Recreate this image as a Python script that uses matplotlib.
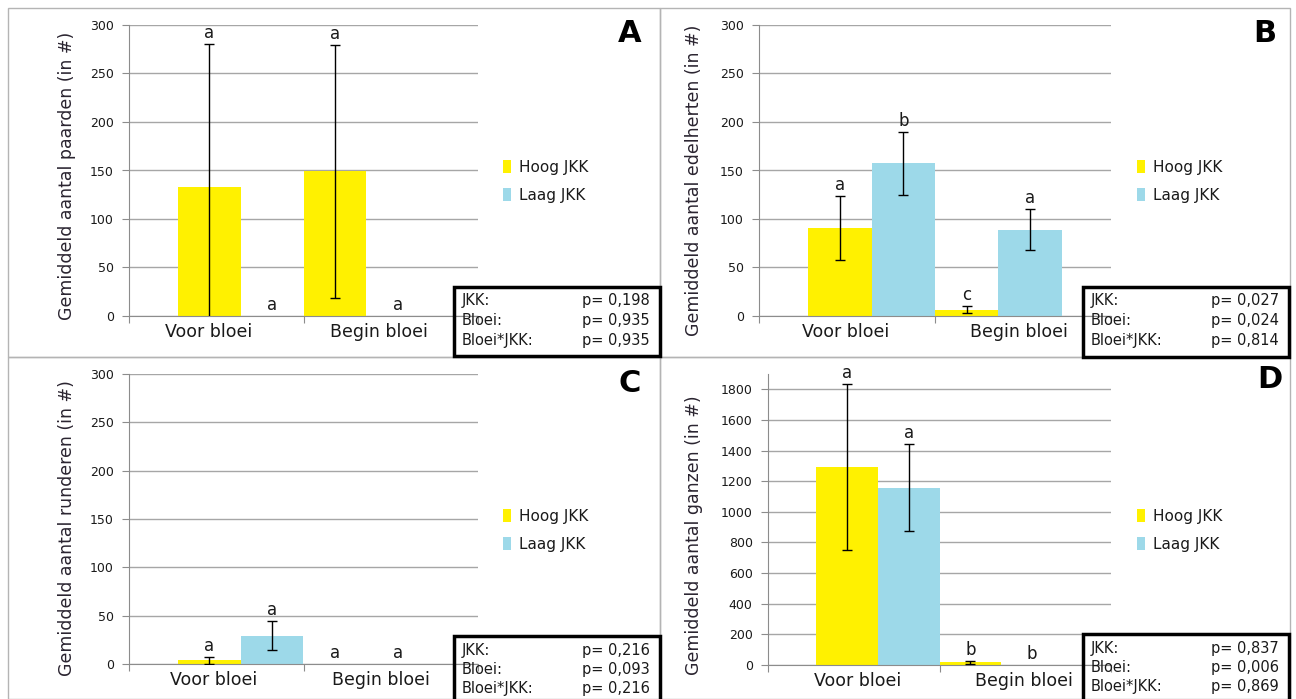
import numpy as np
import matplotlib.pyplot as plt
import matplotlib.patches as patches

W, H = 1296, 699

categories = ['Voor bloei', 'Begin bloei']
series_names = ['Hoog JKK', 'Laag JKK']
stat_names = ['JKK:', 'Bloei:', 'Bloei*JKK:']

# A - paarden
paard_hoog = [133, 149]
paard_hoog_err = [147, 130]
paard_laag = [0, 0]
paard_laag_err = [np.nan, np.nan]
paard_letters_hoog = ['a', 'a']
paard_letters_laag = ['a', 'a']
paard_p = ['0,198', '0,935', '0,935']

# B - edelherten
hert_hoog = [91, 6.5]
hert_hoog_err = [33, 3.8]
hert_laag = [157.5, 89]
hert_laag_err = [32.5, 21]
hert_letters_hoog = ['a', 'c']
hert_letters_laag = ['b', 'a']
hert_p = ['0,027', '0,024', '0,814']

# C - runderen
rund_hoog = [4, 0]
rund_hoog_err = [3.5, np.nan]
rund_laag = [29, 0]
rund_laag_err = [15, np.nan]
rund_letters_hoog = ['a', 'a']
rund_letters_laag = ['a', 'a']
rund_p = ['0,216', '0,093', '0,216']

# D - ganzen
gans_hoog = [1294, 18]
gans_hoog_err = [542, 9]
gans_laag = [1158, 0]
gans_laag_err = [282, np.nan]
gans_letters_hoog = ['a', 'b']
gans_letters_laag = ['a', 'b']
gans_p = ['0,837', '0,006', '0,869']

YELLOW = '#FFF100'
BLUE = '#9DD9E9'
GRID = '#A6A6A6'
AXIS = '#8C8C8C'
TXT = '#1a1a1a'

fig = plt.figure(figsize=(W / 100, H / 100), dpi=100)


def fx(px):
    return px / W


def fy(py):
    return 1 - py / H


def panel(frame, ax_px, ylab, lab_px, letter, letter_px, leg_px, box_px, cat_pos,
          hoog, hoog_err, laag, laag_err, let_h, let_l, pvals, ymax, ystep, yticks_max):
    # panel frame (gray)
    l, t, r, b = frame
    fig.add_artist(patches.Rectangle((fx(l), fy(b)), fx(r - l), (b - t) / H,
                                     transform=fig.transFigure, fill=False,
                                     edgecolor='#B4B4B4', lw=1.0))
    l, t, r, b = ax_px
    ax = fig.add_axes([fx(l), fy(b), fx(r - l), (b - t) / H])

    w = 0.36
    x_h = np.arange(len(categories)) * 2 * w + (1 - 1.5 * w)
    x_l = x_h + w
    ax.bar(x_h, hoog, width=w, color=YELLOW, zorder=2, label=series_names[0])
    ax.bar(x_l, laag, width=w, color=BLUE, zorder=2, label=series_names[1])
    ax.errorbar(x_h, hoog, yerr=hoog_err, fmt='none', ecolor='black',
                elinewidth=1.0, capsize=3.5, capthick=1.0, zorder=3, clip_on=True)
    ax.errorbar(x_l, laag, yerr=laag_err, fmt='none', ecolor='black',
                elinewidth=1.0, capsize=3.5, capthick=1.0, zorder=3, clip_on=True)

    for xs, vals, errs, lets in [(x_h, hoog, hoog_err, let_h), (x_l, laag, laag_err, let_l)]:
        for xi, v, e, s in zip(xs, vals, errs, lets):
            top = v + (0 if np.isnan(e) else e)
            ax.annotate(s, (xi, top), xytext=(0, 1.5), textcoords='offset points',
                        ha='center', va='bottom', fontsize=12, color=TXT,
                        annotation_clip=False, zorder=4)

    ax.set_xlim(0, 2)
    ax.set_ylim(0, ymax)
    ax.set_yticks(np.arange(0, yticks_max + 1, ystep))
    ax.set_xticks([0, 1, 2])
    ax.set_xticklabels([])
    ax.set_xticks(cat_pos, minor=True)
    ax.set_xticklabels(categories, minor=True, fontsize=12.5, color=TXT)
    ax.tick_params(axis='x', which='minor', length=0, pad=5)
    ax.tick_params(axis='x', which='major', length=5, color=AXIS, direction='out')
    ax.tick_params(axis='y', length=5, color=AXIS, labelsize=9, labelcolor=TXT, pad=6)
    ax.yaxis.grid(True, color=GRID, lw=1.0, zorder=0)
    ax.set_axisbelow(True)
    for s in ['top', 'right']:
        ax.spines[s].set_visible(False)
    ax.spines['left'].set_color(AXIS)
    ax.spines['bottom'].set_color(AXIS)
    ax.set_ylabel(ylab, fontsize=12.5, color='#2a2430')
    ax.yaxis.set_label_coords(fx(lab_px[0]), fy(lab_px[1]), transform=fig.transFigure)
    ax.yaxis.label.set_va('center')

    fig.text(fx(letter_px[0]), fy(letter_px[1]), letter, fontsize=22,
             fontweight='bold', ha='center', va='center', color='black')

    ax.legend(loc='upper left', bbox_to_anchor=(fx(leg_px[0]), fy(leg_px[1])),
              bbox_transform=fig.transFigure, frameon=False, fontsize=11,
              handlelength=0.55, handleheight=0.9, handletextpad=0.5,
              labelspacing=0.85, borderpad=0, borderaxespad=0,
              labelcolor=TXT)

    l, t, r, b = box_px
    fig.add_artist(patches.Rectangle((fx(l), fy(b)), fx(r - l), (b - t) / H,
                                     transform=fig.transFigure, fill=False,
                                     edgecolor='black', lw=2.5, zorder=5))
    for i, (name, p) in enumerate(zip(stat_names, pvals)):
        yy = t + 14 + i * 19.5
        fig.text(fx(l + 8), fy(yy), name, fontsize=10.5, ha='left', va='center', color=TXT)
        fig.text(fx(r - 10), fy(yy), 'p= ' + p, fontsize=10.5, ha='right', va='center', color=TXT)
    return ax


panel((8, 8, 660, 357), (129, 25, 478, 316), 'Gemiddeld aantal paarden (in #)',
      (67, 176), 'A', (630, 34), (503, 160), (454, 287, 660, 356), [0.455, 1.43],
      paard_hoog, paard_hoog_err, paard_laag, paard_laag_err,
      paard_letters_hoog, paard_letters_laag, paard_p, 300, 50, 300)

panel((660, 8, 1290, 357), (759, 25, 1111, 316), 'Gemiddeld aantal edelherten (in #)',
      (694, 180), 'B', (1265, 34), (1137, 160), (1083, 287, 1289, 357), [0.495, 1.475],
      hert_hoog, hert_hoog_err, hert_laag, hert_laag_err,
      hert_letters_hoog, hert_letters_laag, hert_p, 300, 50, 300)

panel((8, 357, 660, 699), (129, 374, 478, 664), 'Gemiddeld aantal runderen (in #)',
      (67, 528), 'C', (630, 383), (503, 509), (454, 636, 660, 706), [0.485, 1.445],
      rund_hoog, rund_hoog_err, rund_laag, rund_laag_err,
      rund_letters_hoog, rund_letters_laag, rund_p, 300, 50, 300)

panel((660, 357, 1290, 699), (768, 374, 1111, 665), 'Gemiddeld aantal ganzen (in #)',
      (694, 535), 'D', (1270, 380), (1137, 509), (1083, 634, 1289, 706), [0.52, 1.49],
      gans_hoog, gans_hoog_err, gans_laag, gans_laag_err,
      gans_letters_hoog, gans_letters_laag, gans_p, 1900, 200, 1800)

fig.savefig('out.png', dpi=100)
